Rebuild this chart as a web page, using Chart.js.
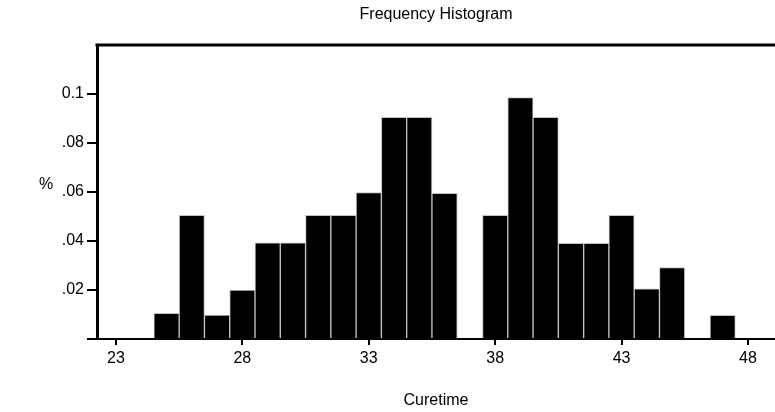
<!DOCTYPE html>
<html>
<head>
<meta charset="utf-8">
<title>Frequency Histogram</title>
<script src="https://cdn.jsdelivr.net/npm/chart.js@4/dist/chart.umd.min.js"></script>
<style>
  html, body { margin: 0; padding: 0; background: #fff; }
  #wrap { width: 775px; height: 412px; }
</style>
</head>
<body>
<div id="wrap"><canvas id="hist"></canvas></div>
<script>
// curetime bins (centre of each 1-unit bin) and the share of runs in each
var bins = [25, 26, 27, 28, 29, 30, 31, 32, 33, 34, 35, 36, 37, 38, 39, 40, 41, 42, 43, 44, 45, 46, 47];
var freq = [0.0105, 0.0505, 0.0098, 0.0200, 0.0393, 0.0393, 0.0505, 0.0505, 0.0598, 0.0905, 0.0905, 0.0595,
            0, 0.0505, 0.0985, 0.0905, 0.0390, 0.0390, 0.0505, 0.0205, 0.0292, 0, 0.0097];

var xTicks = [23, 28, 33, 38, 43, 48];
var yTicks = [0, 0.02, 0.04, 0.06, 0.08, 0.1];
var yLabels = ['', '.02', '.04', '.06', '.08', '0.1'];

var FONT = '"Liberation Sans", Arial, sans-serif';

// frame line across the top plus the "%" label beside the y axis
var extras = {
  id: 'extras',
  afterDraw: function (chart) {
    var ctx = chart.ctx, a = chart.chartArea;
    ctx.save();
    ctx.strokeStyle = '#000';
    ctx.lineWidth = 3;
    ctx.beginPath();
    ctx.moveTo(a.left - 1.5, a.top);
    ctx.lineTo(a.right, a.top);
    ctx.stroke();
    ctx.fillStyle = '#000';
    ctx.font = '16px ' + FONT;
    ctx.textAlign = 'center';
    ctx.textBaseline = 'middle';
    ctx.fillText('%', a.left - 51, 185);
    ctx.restore();
  }
};

var points = bins.map(function (b, i) { return { x: b, y: freq[i] }; });

new Chart(document.getElementById('hist'), {
  type: 'bar',
  data: {
    datasets: [{
      data: points,
      backgroundColor: '#000',
      borderColor: '#c4c4c4',
      borderWidth: 1,
      barPercentage: 1,
      categoryPercentage: 1
    }]
  },
  options: {
    responsive: true,
    maintainAspectRatio: false,
    animation: false,
    layout: { padding: 0 },
    plugins: {
      legend: { display: false },
      tooltip: { enabled: false },
      title: {
        display: true,
        text: 'Frequency Histogram',
        color: '#000',
        fullSize: false,
        font: { family: FONT, size: 16, weight: 'normal' },
        padding: { top: 5, bottom: 20.8 }
      }
    },
    scales: {
      x: {
        type: 'linear',
        offset: false,
        min: 22.25,
        max: 49.07,
        afterBuildTicks: function (s) { s.ticks = xTicks.map(function (v) { return { value: v }; }); },
        afterFit: function (s) { s.height = 73; },
        grid: { offset: false, drawOnChartArea: false, drawTicks: true, tickLength: 6, color: '#000', lineWidth: 2 },
        border: { display: true, color: '#000', width: 2 },
        ticks: { color: '#000', padding: 4, maxRotation: 0, font: { family: FONT, size: 16 } },
        title: {
          display: true,
          text: 'Curetime',
          color: '#000',
          font: { family: FONT, size: 16 },
          padding: { top: 0, bottom: 2 }
        }
      },
      y: {
        min: 0,
        max: 0.12,
        afterBuildTicks: function (s) { s.ticks = yTicks.map(function (v) { return { value: v }; }); },
        afterFit: function (s) { s.width = 97; },
        grid: { drawOnChartArea: false, drawTicks: true, tickLength: 10, color: '#000', lineWidth: 2 },
        border: { display: true, color: '#000', width: 3 },
        ticks: {
          color: '#000',
          padding: 3,
          font: { family: FONT, size: 16 },
          callback: function (v, i) { return yLabels[i]; }
        }
      }
    }
  },
  plugins: [extras]
});
</script>
</body>
</html>
